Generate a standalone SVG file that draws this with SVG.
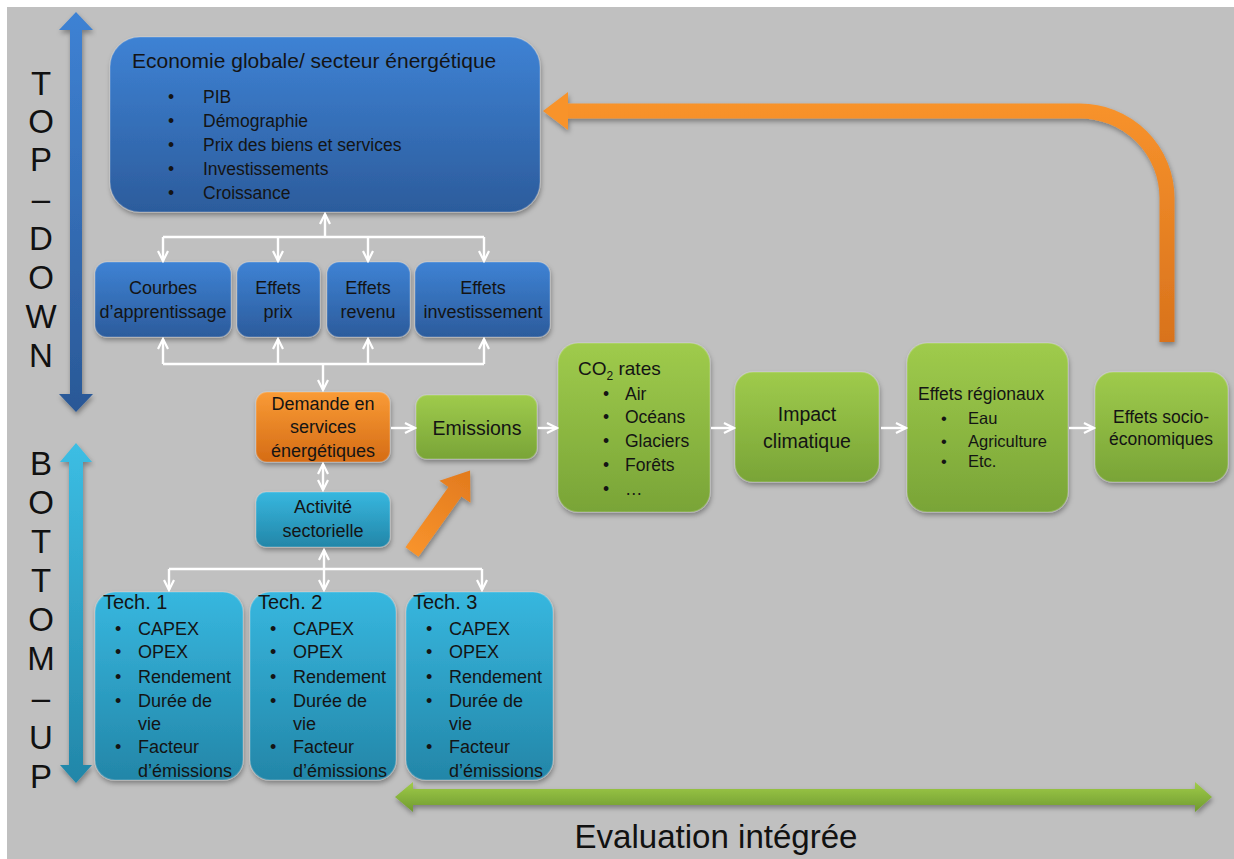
<svg xmlns="http://www.w3.org/2000/svg" width="1234" height="859" viewBox="0 0 1234 859">
<defs>
<linearGradient id="gBlue" x1="0" y1="0" x2="0" y2="1"><stop offset="0" stop-color="#3e82d4"/><stop offset="1" stop-color="#2c5c9c"/></linearGradient>
<linearGradient id="gGreen" x1="0" y1="0" x2="0" y2="1"><stop offset="0" stop-color="#9fcb4c"/><stop offset="1" stop-color="#79a437"/></linearGradient>
<linearGradient id="gCyan" x1="0" y1="0" x2="0" y2="1"><stop offset="0" stop-color="#37b7df"/><stop offset="1" stop-color="#2386a8"/></linearGradient>
<linearGradient id="gOrange" x1="0" y1="0" x2="0" y2="1"><stop offset="0" stop-color="#f99b36"/><stop offset="1" stop-color="#d56c15"/></linearGradient>
<linearGradient id="gArrO" gradientUnits="userSpaceOnUse" x1="0" y1="100" x2="0" y2="345"><stop offset="0" stop-color="#f8932c"/><stop offset="1" stop-color="#d8721c"/></linearGradient>
<linearGradient id="gArrO2" x1="0" y1="0" x2="1" y2="0"><stop offset="0" stop-color="#f8932c"/><stop offset="1" stop-color="#e27a1d"/></linearGradient>
<linearGradient id="gArrG" x1="0" y1="0" x2="0" y2="1"><stop offset="0" stop-color="#a0cc4a"/><stop offset="1" stop-color="#6f9a2f"/></linearGradient>
<linearGradient id="gArrB" x1="0" y1="0" x2="0" y2="1"><stop offset="0" stop-color="#3e82d4"/><stop offset="1" stop-color="#2a5896"/></linearGradient>
<linearGradient id="gArrC" x1="0" y1="0" x2="0" y2="1"><stop offset="0" stop-color="#3cbee4"/><stop offset="1" stop-color="#2286a8"/></linearGradient>
<filter id="sh" x="-10%" y="-10%" width="120%" height="130%"><feDropShadow dx="1" dy="3" stdDeviation="2.5" flood-color="#000" flood-opacity="0.35"/></filter>
<marker id="ah" viewBox="0 0 14 12" refX="12" refY="6" markerWidth="14" markerHeight="12" markerUnits="userSpaceOnUse" orient="auto-start-reverse"><path d="M2,1 L12,6 L2,11" fill="none" stroke="#fff" stroke-width="2.2" stroke-linejoin="miter"/></marker>
</defs>
<style>
text{font-family:"Liberation Sans",Arial,sans-serif;fill:#141414}
.box{filter:url(#sh);stroke:#ffffff;stroke-opacity:0.18;stroke-width:1.5}
.blue{fill:url(#gBlue)}
.green{fill:url(#gGreen)}
.cyan{fill:url(#gCyan)}
.orange{fill:url(#gOrange)}
.t18{font-size:18px}
.t17{font-size:17.5px}
.t19{font-size:19.5px}
.c{text-anchor:middle}
.side{font-size:33px;text-anchor:middle;fill:#111}
.wl{fill:none;stroke:#fff;stroke-width:2.4}
.wa{fill:none;stroke:#fff;stroke-width:2.4;marker-end:url(#ah)}
.wd{fill:none;stroke:#fff;stroke-width:2.4;marker-end:url(#ah);marker-start:url(#ah)}
</style>
<rect x="0" y="0" width="1234" height="859" fill="#ffffff"/>
<rect x="7" y="7" width="1227" height="852" fill="#c0c0c0"/>

<!-- side arrows -->
<g id="arrow-topdown" filter="url(#sh)">
<polygon points="76,12 93,30 82,30 82,394 93,394 76,412 59,394 70,394 70,30 59,30" fill="url(#gArrB)"/>
</g>
<g id="arrow-bottomup" filter="url(#sh)">
<polygon points="76,443 92,462 83,462 83,765 92,765 76,783 60,765 69,765 69,462 60,462" fill="url(#gArrC)"/>
</g>
<g id="label-topdown">
<text class="side" x="41" y="95">T</text>
<text class="side" x="41" y="133">O</text>
<text class="side" x="41" y="171">P</text>
<text class="side" x="41" y="210">–</text>
<text class="side" x="41" y="250">D</text>
<text class="side" x="41" y="289">O</text>
<text class="side" x="41" y="328">W</text>
<text class="side" x="41" y="367">N</text>
</g>
<g id="label-bottomup">
<text class="side" x="41" y="475">B</text>
<text class="side" x="41" y="514">O</text>
<text class="side" x="41" y="553">T</text>
<text class="side" x="41" y="592">T</text>
<text class="side" x="41" y="631">O</text>
<text class="side" x="41" y="670">M</text>
<text class="side" x="41" y="709">–</text>
<text class="side" x="41" y="749">U</text>
<text class="side" x="41" y="788">P</text>
</g>

<!-- big orange feedback arrow -->
<g id="arrow-feedback" filter="url(#sh)">
<path d="M566,111 H1080 A87,87 0 0 1 1167,198 V342" fill="none" stroke="url(#gArrO)" stroke-width="15"/>
<polygon points="543,111 568,92 568,130" fill="#f8932c"/>
</g>

<!-- diagonal orange arrow -->
<g id="arrow-diag" filter="url(#sh)">
<polygon transform="translate(412,552) rotate(-54.5)" points="0,-8 74,-8 74,-19 100,0 74,19 74,8 0,8" fill="url(#gArrO2)"/>
</g>

<!-- green evaluation arrow -->
<g id="arrow-evaluation" filter="url(#sh)">
<polygon points="395,797 413,782 413,789 1195,789 1195,782 1212,797 1195,812 1195,805 413,805 413,812" fill="url(#gArrG)"/>
</g>
<text id="label-evaluation" x="716" y="848" font-size="34" text-anchor="middle" textLength="283" lengthAdjust="spacingAndGlyphs" style="fill:#111">Evaluation intégrée</text>

<!-- nodes -->
<g id="n-economie">
<rect class="box blue" x="110" y="37" width="430" height="175" rx="30"/>
<text x="132" y="68" font-size="21">Economie globale/ secteur énergétique</text>
<g class="t17">
<text x="168" y="103">•</text><text x="203" y="103">PIB</text>
<text x="168" y="127">•</text><text x="203" y="127">Démographie</text>
<text x="168" y="151">•</text><text x="203" y="151">Prix des biens et services</text>
<text x="168" y="175">•</text><text x="203" y="175">Investissements</text>
<text x="168" y="199">•</text><text x="203" y="199">Croissance</text>
</g>
</g>

<g id="n-courbes">
<rect class="box blue" x="95" y="262" width="136" height="75" rx="12"/>
<text class="t18 c" x="163" y="294">Courbes</text>
<text class="t18 c" x="163" y="318">d’apprentissage</text>
</g>
<g id="n-prix">
<rect class="box blue" x="237" y="262" width="83" height="75" rx="12"/>
<text class="t18 c" x="278" y="294">Effets</text>
<text class="t18 c" x="278" y="318">prix</text>
</g>
<g id="n-revenu">
<rect class="box blue" x="327" y="262" width="83" height="75" rx="12"/>
<text class="t18 c" x="368" y="294">Effets</text>
<text class="t18 c" x="368" y="318">revenu</text>
</g>
<g id="n-investissement">
<rect class="box blue" x="415" y="262" width="135" height="75" rx="12"/>
<text class="t18 c" x="483" y="294">Effets</text>
<text class="t18 c" x="483" y="318">investissement</text>
</g>

<g id="n-demande">
<rect class="box orange" x="256" y="392" width="134" height="70" rx="11"/>
<text class="t18 c" x="323" y="410">Demande en</text>
<text class="t18 c" x="323" y="433">services</text>
<text class="t18 c" x="323" y="457">énergétiques</text>
</g>
<g id="n-activite">
<rect class="box cyan" x="256" y="492" width="134" height="55" rx="10"/>
<text class="t18 c" x="323" y="513">Activité</text>
<text class="t18 c" x="323" y="537">sectorielle</text>
</g>
<g id="n-emissions">
<rect class="box green" x="416" y="395" width="121" height="64" rx="11"/>
<text class="t19 c" x="477" y="435">Emissions</text>
</g>

<g id="n-tech1">
<rect class="box cyan" x="95" y="592" width="148" height="188" rx="20"/>
<text x="103" y="609" font-size="20">Tech. 1</text>
<g class="t18">
<text x="115" y="635">•</text><text x="138" y="635">CAPEX</text>
<text x="115" y="658">•</text><text x="138" y="658">OPEX</text>
<text x="115" y="683">•</text><text x="138" y="683">Rendement</text>
<text x="115" y="707">•</text><text x="138" y="707">Durée de</text>
<text x="138" y="730">vie</text>
<text x="115" y="753">•</text><text x="138" y="753">Facteur</text>
<text x="138" y="777">d’émissions</text>
</g>
</g>
<g id="n-tech2">
<rect class="box cyan" x="250" y="592" width="146" height="188" rx="20"/>
<text x="258" y="609" font-size="20">Tech. 2</text>
<g class="t18">
<text x="270" y="635">•</text><text x="293" y="635">CAPEX</text>
<text x="270" y="658">•</text><text x="293" y="658">OPEX</text>
<text x="270" y="683">•</text><text x="293" y="683">Rendement</text>
<text x="270" y="707">•</text><text x="293" y="707">Durée de</text>
<text x="293" y="730">vie</text>
<text x="270" y="753">•</text><text x="293" y="753">Facteur</text>
<text x="293" y="777">d’émissions</text>
</g>
</g>
<g id="n-tech3">
<rect class="box cyan" x="406" y="592" width="147" height="188" rx="20"/>
<text x="413" y="609" font-size="20">Tech. 3</text>
<g class="t18">
<text x="426" y="635">•</text><text x="449" y="635">CAPEX</text>
<text x="426" y="658">•</text><text x="449" y="658">OPEX</text>
<text x="426" y="683">•</text><text x="449" y="683">Rendement</text>
<text x="426" y="707">•</text><text x="449" y="707">Durée de</text>
<text x="449" y="730">vie</text>
<text x="426" y="753">•</text><text x="449" y="753">Facteur</text>
<text x="449" y="777">d’émissions</text>
</g>
</g>

<g id="n-co2">
<rect class="box green" x="558" y="343" width="152" height="169" rx="20"/>
<text x="578" y="375" font-size="19">CO<tspan font-size="12" dy="5">2</tspan><tspan dy="-5"> rates</tspan></text>
<g class="t17">
<text x="603" y="400">•</text><text x="625" y="400">Air</text>
<text x="603" y="423">•</text><text x="625" y="423">Océans</text>
<text x="603" y="447">•</text><text x="625" y="447">Glaciers</text>
<text x="603" y="471">•</text><text x="625" y="471">Forêts</text>
<text x="603" y="495">•</text><text x="625" y="495">…</text>
</g>
</g>
<g id="n-impact">
<rect class="box green" x="735" y="372" width="144" height="110" rx="18"/>
<text class="t19 c" x="807" y="421">Impact</text>
<text class="t19 c" x="807" y="448">climatique</text>
</g>
<g id="n-regionaux">
<rect class="box green" x="907" y="343" width="161" height="169" rx="20"/>
<text x="918" y="400" font-size="17.5">Effets régionaux</text>
<g font-size="16.5">
<text x="941" y="424">•</text><text x="968" y="424">Eau</text>
<text x="941" y="447">•</text><text x="968" y="447">Agriculture</text>
<text x="941" y="467">•</text><text x="968" y="467">Etc.</text>
</g>
</g>
<g id="n-socio">
<rect class="box green" x="1095" y="372" width="133" height="110" rx="18"/>
<text class="c" x="1161" y="423" font-size="17.5">Effets socio-</text>
<text class="c" x="1161" y="445" font-size="17.5">économiques</text>
</g>

<!-- connectors -->
<g id="connectors">
<path class="wa" d="M325,237 V214"/>
<path class="wl" d="M163,237 H484"/>
<path class="wa" d="M163,237 V261"/>
<path class="wa" d="M278,237 V261"/>
<path class="wa" d="M368,237 V261"/>
<path class="wa" d="M484,237 V261"/>
<path class="wl" d="M163,364 H484"/>
<path class="wa" d="M163,364 V339"/>
<path class="wa" d="M278,364 V339"/>
<path class="wa" d="M368,364 V339"/>
<path class="wa" d="M484,364 V339"/>
<path class="wa" d="M323,364 V390"/>
<path class="wd" d="M323,464 V490"/>
<path class="wd" d="M324,550 V590"/>
<path class="wl" d="M169,569 H482"/>
<path class="wa" d="M169,569 V590"/>
<path class="wa" d="M482,569 V590"/>
<path class="wa" d="M391,428 H415"/>
<path class="wa" d="M538,428 H557"/>
<path class="wa" d="M711,428 H734"/>
<path class="wa" d="M881,428 H906"/>
<path class="wa" d="M1069,428 H1094"/>
</g>
</svg>
